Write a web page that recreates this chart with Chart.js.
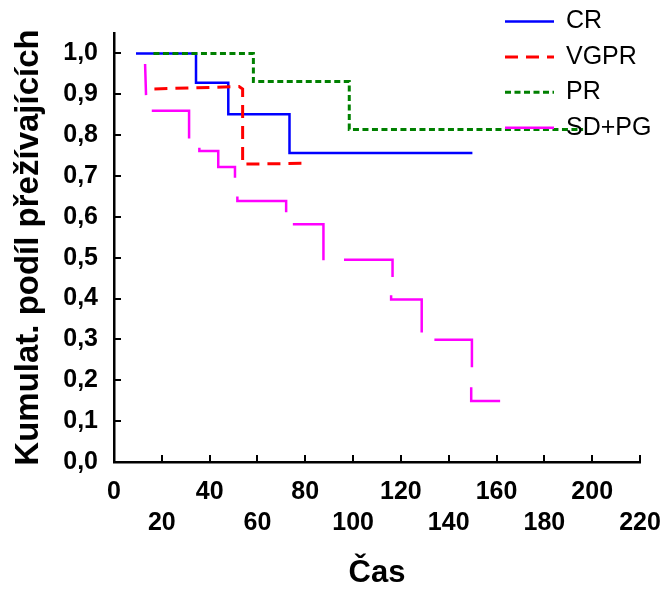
<!DOCTYPE html>
<html>
<head>
<meta charset="utf-8">
<script src="https://cdn.jsdelivr.net/npm/chart.js@4.4.1/dist/chart.umd.min.js"></script>
<style>
  html, body { margin: 0; padding: 0; background: #fff; }
  #wrap { width: 664px; height: 590px; }
</style>
</head>
<body>
<div id="wrap"><canvas id="kmChart" width="664" height="590"></canvas></div>
<script>
// Kaplan-Meier curves; null = break in the drawn line
const seriesNames = ['CR', 'VGPR', 'PR', 'SD+PG'];

const crTime = [9.2, 34.3, 34.3, 47.8, 47.8, 73.4, 73.4, 149.9];
const crSurv = [1.0, 1.0, 0.928, 0.928, 0.851, 0.851, 0.756, 0.756];

const vgprTime = [16.9, 52.3, 53.8, 53.8, 78.5];
const vgprSurv = [0.913, 0.919, 0.913, 0.729, 0.731];

const prTime = [16.5, 58.3, 58.3, 98.4, 98.4, 196.2];
const prSurv = [1.0, 1.0, 0.931, 0.931, 0.814, 0.814];

const sdTime = [13.0, 13.4, null,
  15.8, 31.4, 31.4, null,
  35.7, 35.7, 43.6, 43.6, 50.6, 50.6, null,
  51.6, 51.6, 72.0, 72.0, null,
  74.8, 87.6, 87.6, null,
  96.2, 116.5, 116.5, null,
  115.9, 115.9, 128.7, 128.7, null,
  134.0, 149.7, 149.7, null,
  149.4, 149.4, 161.5];
const sdSurv = [0.974, 0.898, null,
  0.860, 0.860, 0.792, null,
  0.769, 0.761, 0.761, 0.722, 0.722, 0.696, null,
  0.650, 0.639, 0.639, 0.611, null,
  0.582, 0.582, 0.494, null,
  0.495, 0.495, 0.453, null,
  0.408, 0.398, 0.398, 0.317, null,
  0.299, 0.299, 0.232, null,
  0.183, 0.149, 0.149];

const xTicks = { min: 0, max: 220, step: 20 };
const yTicks = { min: 0, max: 1.05, step: 0.1 };

const FONT = "'Liberation Sans', Arial, sans-serif";

function toPoints(times, surv) {
  let lastX = times[0];
  return times.map((t, i) => {
    if (t !== null) lastX = t;
    return { x: lastX, y: surv[i] };
  });
}

// short tick marks drawn inside the plot, as in the original
const innerTicks = {
  id: 'innerTicks',
  beforeDatasetsDraw(chart) {
    const { ctx, chartArea, scales: { x, y } } = chart;
    ctx.save();
    ctx.strokeStyle = '#000';
    ctx.lineWidth = 2;
    ctx.beginPath();
    x.ticks.forEach(t => {
      const px = Math.round(x.getPixelForValue(t.value));
      ctx.moveTo(px, chartArea.bottom);
      ctx.lineTo(px, chartArea.bottom - 7);
    });
    y.ticks.forEach(t => {
      const py = Math.round(y.getPixelForValue(t.value));
      ctx.moveTo(chartArea.left, py);
      ctx.lineTo(chartArea.left + 7, py);
    });
    ctx.stroke();
    ctx.restore();
  }
};

// legend sits on top of the plot, top right
const overlayLegend = {
  id: 'overlayLegend',
  afterDatasetsDraw(chart) {
    const { ctx, chartArea } = chart;
    const x0 = chartArea.right - 135;
    ctx.save();
    chart.data.datasets.forEach((ds, i) => {
      const yy = chartArea.top - 11.5 + i * 35.4;
      ctx.beginPath();
      ctx.strokeStyle = ds.borderColor;
      ctx.lineWidth = ds.borderWidth;
      ctx.setLineDash(ds.borderDash || []);
      ctx.moveTo(x0, yy);
      ctx.lineTo(x0 + 49, yy);
      ctx.stroke();
      ctx.setLineDash([]);
      ctx.fillStyle = '#000';
      ctx.font = '25px ' + FONT;
      ctx.textAlign = 'left';
      ctx.textBaseline = 'middle';
      ctx.fillText(ds.label, x0 + 61, yy);
    });
    ctx.restore();
  }
};

new Chart(document.getElementById('kmChart'), {
  type: 'line',
  data: {
    datasets: [
      { label: seriesNames[0], data: toPoints(crTime, crSurv), borderColor: '#0000ff', borderWidth: 2.5, order: 4 },
      { label: seriesNames[1], data: toPoints(vgprTime, vgprSurv), borderColor: '#ff0000', borderWidth: 3, borderDash: [13, 8], order: 3 },
      { label: seriesNames[2], data: toPoints(prTime, prSurv), borderColor: '#008000', borderWidth: 3, borderDash: [6, 3.5], order: 2 },
      { label: seriesNames[3], data: toPoints(sdTime, sdSurv), borderColor: '#ff00ff', borderWidth: 2.5, order: 1 }
    ]
  },
  options: {
    responsive: false,
    animation: false,
    devicePixelRatio: 1,
    events: [],
    spanGaps: false,
    elements: {
      point: { radius: 0 },
      line: { tension: 0, borderCapStyle: 'butt', borderJoinStyle: 'miter' }
    },
    layout: { padding: { top: 33, right: 0, bottom: 0, left: 0 } },
    plugins: { legend: { display: false }, tooltip: { enabled: false } },
    scales: {
      x: {
        type: 'linear',
        min: xTicks.min,
        max: xTicks.max,
        grid: { display: false, drawTicks: false },
        border: { display: true, color: '#000', width: 2.5 },
        ticks: {
          stepSize: xTicks.step,
          autoSkip: false,
          maxRotation: 0,
          minRotation: 0,
          padding: 14.5,
          color: '#000',
          font: { family: FONT, size: 25, weight: 'bold', lineHeight: 1.25 },
          // every other label drops to a second row
          callback: v => (Math.round(v / xTicks.step) % 2 === 1) ? ['', String(v)] : String(v)
        },
        title: {
          display: true,
          text: 'Čas',
          color: '#000',
          padding: { top: 0, bottom: 1 },
          font: { family: FONT, size: 31, weight: 'bold', lineHeight: 1 }
        },
        afterFit: s => {
          s.height = 128;
          s.paddingLeft = 0;
          s.paddingRight = 24;
        }
      },
      y: {
        type: 'linear',
        min: yTicks.min,
        max: yTicks.max,
        grid: { display: false, drawTicks: false },
        border: { display: true, color: '#000', width: 2.5 },
        ticks: {
          stepSize: yTicks.step,
          includeBounds: false,
          padding: 16,
          color: '#000',
          font: { family: FONT, size: 25, weight: 'bold' },
          callback: v => v.toFixed(1).replace('.', ',')
        },
        title: {
          display: true,
          text: 'Kumulat. podíl přežívajících',
          color: '#000',
          padding: { top: 12, bottom: 0 },
          font: { family: FONT, size: 33, weight: 'bold', lineHeight: 1 }
        },
        afterFit: s => { s.width = 114; }
      }
    }
  },
  plugins: [innerTicks, overlayLegend]
});
</script>
</body>
</html>
